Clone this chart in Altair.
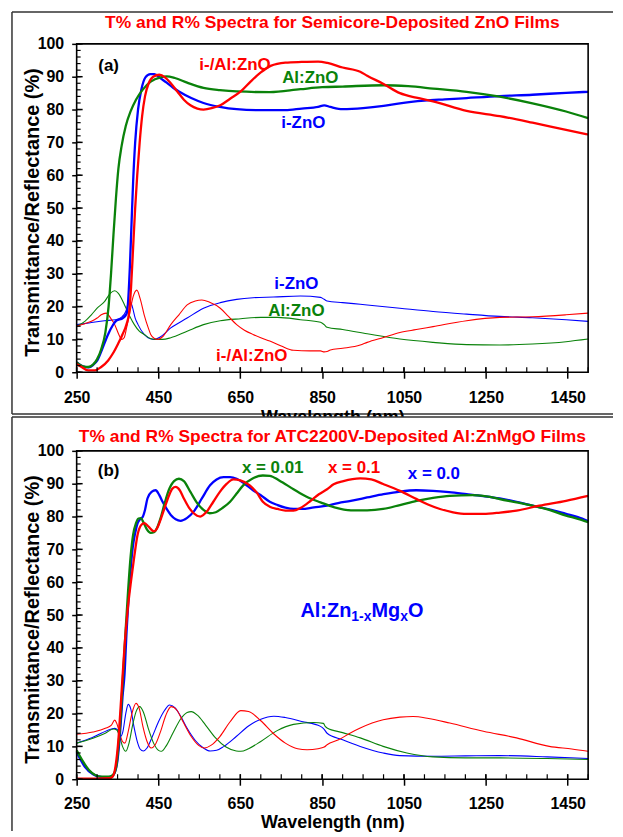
import altair as alt
import pandas as pd

FONT = "Liberation Sans"
RED, GREEN, BLUE = "#ff0000", "#0a820a", "#0000ff"
COLORS = {"red": RED, "green": GREEN, "blue": BLUE, "black": "#000000"}

TITLE_A = "T% and R% Spectra for Semicore-Deposited ZnO Films"
TITLE_B = "T% and R% Spectra for ATC2200V-Deposited Al:ZnMgO Films"
X_TITLE = "Wavelength (nm)"
Y_TITLE = "Transmittance/Reflectance (%)"

X_TICKS = [250, 450, 650, 850, 1050, 1250, 1450]
X_MINOR = list(range(250, 1501, 50))
Y_TICKS = list(range(0, 101, 10))
Y_MINOR = list(range(0, 101, 2))

# ---------------- panel (a) : transmittance ----------------
A_T_IZNO = [(250, 3.0), (265, 1.8), (280, 1.5), (290, 2.2), (300, 3.5), (311, 6.6), (327, 11.6),
            (347, 15.7), (363, 16.5), (372, 17.8), (376, 22), (380, 32), (384, 45), (388, 58),
            (393, 70), (400, 80), (408, 86), (418, 89.8), (430, 90.8), (440, 90.8), (455, 89.5),
            (470, 88.2), (485, 86.7), (500, 85.5), (530, 83.5), (560, 82), (600, 80.8), (641, 80.1),
            (700, 79.8), (760, 79.8), (800, 80.3), (840, 80.8), (855, 81.3), (870, 80.8), (900, 80.1),
            (950, 80.4), (1000, 81.1), (1040, 81.9), (1100, 82.7), (1150, 83.1), (1203, 83.5),
            (1284, 84.1), (1364, 84.5), (1446, 85.1), (1500, 85.4)]
A_T_ALZNO = [(250, 3.0), (265, 1.8), (278, 1.6), (290, 2.3), (300, 4), (310, 7), (320, 12), (328, 20),
             (334, 30), (340, 42), (346, 53), (352, 62), (360, 69), (370, 75), (382, 79.5), (395, 83),
             (411, 86), (431, 88.5), (455, 89.8), (470, 90.1), (490, 89.6), (520, 88.2), (560, 86.6),
             (600, 85.9), (641, 85.5), (722, 85.3), (797, 86.2), (850, 86.8), (900, 87), (999, 87.4),
             (1060, 87.1), (1121, 86.4), (1203, 85.4), (1284, 83.9), (1364, 81.9), (1446, 79.4),
             (1500, 77.4)]
A_T_IALZNO = [(250, 2.5), (262, 1.6), (278, 0.6), (295, 0.6), (310, 1.6), (327, 3.6), (340, 6),
              (351, 8.6), (362, 11.5), (372, 14.7), (378, 18), (383, 26), (388, 38), (393, 50),
              (398, 60), (404, 70), (410, 78), (417, 84), (426, 88), (437, 90), (452, 90.6),
              (466, 89.8), (480, 88), (496, 85.5), (512, 83), (528, 81.3), (545, 80.3), (560, 80),
              (580, 80.4), (601, 81.3), (625, 83.3), (651, 85.5), (675, 88.5), (700, 91.3),
              (724, 93.3), (760, 94.3), (800, 94.5), (840, 94.6), (863, 94.2), (900, 92.8),
              (943, 91.5), (960, 90.3), (1000, 87.8), (1040, 85), (1080, 83.6), (1121, 82.5),
              (1203, 79.6), (1284, 78), (1364, 76), (1446, 73.8), (1500, 72.4)]

# ---------------- panel (a) : reflectance ----------------
A_R_IZNO = [(250, 14.5), (280, 15), (318, 15.7), (345, 16), (360, 16.8), (370, 18.5), (376, 21),
            (380, 21.8), (386, 20), (393, 16.5), (400, 14.5), (415, 11.5), (430, 10.2), (440, 10),
            (455, 10.8), (480, 13.5), (520, 16.5), (560, 19.5), (601, 21.2), (641, 22.2),
            (681, 22.7), (731, 22.9), (797, 23.2), (846, 22.8), (855, 22.2), (862, 21.7),
            (900, 21.2), (943, 20.7), (960, 20.5), (1040, 19.5), (1121, 18.5), (1203, 17.7),
            (1284, 17.0), (1364, 16.6), (1446, 16.0), (1500, 15.5)]
A_R_ALZNO = [(250, 14), (270, 15.5), (286, 17.5), (300, 19.5), (318, 21.5), (332, 24), (343, 24.8),
             (352, 24), (367, 20.5), (380, 17), (391, 14.5), (403, 12.5), (415, 11.5), (430, 10.3),
             (445, 10), (460, 10), (480, 10.5), (520, 12.5), (560, 14.5), (601, 15.7), (651, 16.3),
             (700, 16.7), (741, 16.7), (797, 16), (846, 15.2), (855, 14.5), (862, 13.7), (900, 13),
             (960, 11.7), (1040, 10.1), (1121, 9.1), (1203, 8.4), (1284, 8.3), (1364, 8.6),
             (1446, 9.3), (1500, 10.1)]
A_R_IALZNO = [(250, 14), (270, 14.8), (286, 15.5), (300, 16.5), (310, 17.5), (322, 18), (333, 16.5),
              (343, 14.5), (353, 11.5), (360, 10), (366, 10.5), (372, 13.5), (379, 17.5), (388, 23),
              (397, 25), (405, 22.5), (415, 17.5), (425, 13.5), (431, 11.5), (440, 10.3), (449, 10),
              (460, 10.8), (480, 14.5), (500, 17.5), (520, 20.5), (540, 21.7), (556, 22), (575, 21.3),
              (601, 19.5), (621, 17), (641, 14.5), (660, 12.8), (681, 11.5), (700, 10.5), (722, 9.5),
              (750, 8), (780, 6.7), (820, 6.5), (846, 6.5), (855, 6.2), (862, 6.3), (870, 6.8),
              (900, 7.3), (943, 8.3), (960, 9.1), (1000, 10.6), (1040, 12.1), (1080, 13),
              (1121, 13.9), (1203, 15.7), (1284, 16.7), (1364, 16.9), (1446, 17.5), (1500, 18)]

# ---------------- panel (b) : transmittance ----------------
B_T_X00 = [(250, 8.2), (270, 3.8), (290, 1.5), (305, 0.8), (320, 0.6), (335, 0.8), (343, 2), (350, 6),
           (356, 14), (362, 25), (367, 32), (372, 45), (377, 55.5), (382, 64), (387, 70.5), (393, 75),
           (399, 78), (405, 79.2), (411, 79.8), (417, 82), (423, 85.5), (433, 87.5), (443, 88),
           (452, 86.5), (460, 84.5), (470, 82.3), (480, 80.5), (492, 79.2), (504, 78.7), (520, 79.6),
           (536, 81.5), (556, 85.5), (576, 89.5), (592, 91.3), (609, 92), (625, 92), (641, 91.5),
           (660, 90), (681, 88), (700, 86.5), (722, 84.5), (741, 83.5), (760, 82.7), (780, 82.3),
           (800, 82.3), (830, 82.8), (862, 83.3), (878, 83.8), (920, 84.8), (960, 85.8),
           (1000, 86.8), (1040, 87.6), (1080, 88), (1121, 87.8), (1160, 87.4), (1203, 86.8),
           (1244, 86.2), (1284, 85.5), (1325, 84.5), (1364, 83.3), (1405, 82.2), (1446, 80.8),
           (1475, 79.8), (1500, 78.6)]
B_T_X001 = [(250, 8.8), (265, 5.5), (280, 2.8), (295, 1.3), (310, 0.8), (330, 0.8), (340, 1.5),
            (347, 4), (352, 10), (358, 20), (364, 33), (370, 46), (376, 58), (382, 68), (388, 74.5),
            (395, 78), (401, 79.4), (407, 79.5), (413, 78.3), (422, 76), (431, 75), (440, 75.3),
            (448, 77), (455, 79.5), (465, 84), (475, 88), (488, 90.8), (500, 91.5), (512, 90.8),
            (528, 87.5), (545, 84), (560, 82), (575, 81), (590, 81.3), (605, 82.5), (625, 84.5),
            (641, 87), (657, 89.5), (680, 91.6), (705, 92.5), (722, 92.4), (745, 91), (780, 88.3),
            (812, 86), (846, 84.3), (880, 82.8), (920, 81.9), (960, 81.9), (999, 82.3),
            (1040, 83.5), (1081, 84.8), (1121, 85.7), (1162, 86.3), (1218, 86.5), (1260, 86),
            (1284, 85.3), (1325, 84.3), (1364, 83.3), (1405, 82), (1446, 80.3), (1475, 79.3),
            (1500, 78.3)]
B_T_X01 = [(250, 0.2), (300, 0.2), (330, 0.3), (338, 0.8), (345, 4), (351, 10.5), (359, 25),
           (367, 40.5), (375, 52), (383, 60.5), (391, 68), (399, 74.5), (407, 77.3), (415, 78),
           (425, 77), (439, 75.5), (447, 76.5), (455, 79), (466, 83), (476, 86.5), (484, 88.5),
           (492, 89), (502, 88), (512, 85.5), (524, 82.8), (536, 81), (552, 80), (568, 81.5),
           (584, 84.5), (600, 87.5), (617, 90), (633, 91.3), (650, 91), (673, 89.5), (690, 87.3),
           (705, 84.5), (722, 83), (741, 82.3), (760, 81.8), (780, 81.8), (797, 82.6), (822, 84.8),
           (842, 86.8), (862, 88.3), (878, 89.8), (902, 90.8), (943, 91.6), (970, 91.3),
           (999, 89.9), (1040, 87.8), (1081, 85.3), (1110, 83.6), (1138, 82.3), (1170, 81.3),
           (1203, 80.8), (1244, 80.8), (1285, 81.2), (1325, 81.8), (1381, 83.3), (1446, 84.8),
           (1500, 86.3)]

# ---------------- panel (b) : reflectance ----------------
B_R_X00 = [(250, 11), (280, 12.3), (310, 14), (335, 15.3), (343, 15.5), (350, 15), (357, 13),
           (363, 14.5), (370, 20), (376, 22.8), (382, 21.5), (390, 16), (398, 11.5), (405, 9.2),
           (413, 8.6), (422, 9.5), (435, 13), (450, 17.5), (465, 21), (477, 22.6), (490, 21.8),
           (505, 19), (520, 15.5), (540, 11.8), (560, 9.5), (576, 8.6), (592, 8.8), (610, 10),
           (640, 13), (670, 16.2), (700, 18.3), (732, 19.2), (760, 18.8), (800, 17.6), (846, 16.1),
           (855, 15.2), (862, 14), (900, 12), (943, 10), (999, 8), (1040, 7.2), (1121, 7),
           (1200, 7.1), (1284, 7.2), (1400, 6.8), (1500, 6.3)]
B_R_X001 = [(250, 11), (290, 12.5), (320, 14), (340, 15.3), (348, 15), (355, 13), (362, 10),
            (370, 8.5), (378, 11), (386, 16), (395, 20.5), (404, 22.1), (413, 20.5), (425, 15.5),
            (438, 11), (450, 8.8), (457, 8.5), (468, 10), (485, 14), (505, 18.5), (520, 20.3),
            (530, 20.6), (545, 19.5), (565, 16.5), (590, 12.5), (615, 9.8), (640, 8.6), (651, 8.5),
            (670, 9.3), (700, 11.5), (740, 14.8), (780, 16.7), (829, 17.3), (853, 17.0), (858, 16),
            (862, 15.6), (900, 14.2), (943, 12.6), (999, 10), (1057, 8), (1121, 6.8), (1200, 6.5),
            (1284, 6.5), (1400, 6.3), (1500, 6.0)]
B_R_X01 = [(250, 13.7), (290, 14.4), (320, 15.5), (335, 16.5), (343, 18), (348, 17), (355, 14),
           (362, 11.5), (368, 11), (376, 14.5), (385, 20), (395, 23.1), (403, 21.5), (412, 16),
           (422, 11.5), (432, 9.5), (442, 10.5), (455, 14.5), (468, 19.5), (481, 22.1), (495, 21),
           (510, 17.5), (530, 13), (548, 10.3), (562, 9.5), (578, 10.3), (600, 13), (625, 17.5),
           (651, 20.9), (670, 20.6), (700, 17.8), (730, 14), (760, 11), (790, 9.3), (813, 9.0),
           (840, 9.3), (855, 9.8), (862, 10.5), (890, 12), (919, 14.1), (943, 15.6), (999, 18.1),
           (1040, 18.9), (1072, 19.1), (1110, 18.5), (1162, 17.1), (1244, 14.6), (1325, 12.6),
           (1405, 10), (1460, 9.2), (1500, 8.5)]

# ---------------- annotations ----------------
ANN_A_TEXT = ["(a)", "i-/Al:ZnO", "Al:ZnO", "i-ZnO", "i-ZnO", "Al:ZnO", "i-/Al:ZnO"]
ANN_A_WL = [328, 637, 821, 804, 787, 787, 678]
ANN_A_VAL = [93.4, 93.7, 89.5, 75.9, 26.8, 18.7, 4.8]
ANN_A_COLOR = ["black", "red", "green", "blue", "blue", "green", "red"]

ANN_B_TEXT = ["(b)", "x = 0.01", "x = 0.1", "x = 0.0"]
ANN_B_WL = [328, 729, 928, 1123]
ANN_B_VAL = [94.0, 94.9, 94.9, 92.8]
ANN_B_COLOR = ["black", "green", "red", "blue"]

BIG_PARTS = ["Al:Zn", "1-x", "Mg", "x", "O"]
BIG_WL = 797
BIG_VAL = 51.2

W, H = 514, 330
FRAME_L, FRAME_R = -65, 539


def lines_df(series):
    rows = []
    for name, color, pts in series:
        for wl, v in pts:
            rows.append({"series": name, "color": COLORS[color], "wl": wl, "val": v})
    return pd.DataFrame(rows)


def ann_df(texts, wls, vals, cols):
    return pd.DataFrame({"text": texts, "wl": wls, "val": vals,
                         "color": [COLORS[c] for c in cols]})


def panel(t_series, r_series, ann, title, title_y, label_pad, xtitle_y,
          frame_top, frame_bottom, draw_bottom, cover, spacer, big):
    xs = alt.Scale(domain=[250, 1500], nice=False, zero=False)
    ys = alt.Scale(domain=[0, 100], nice=False, zero=False)
    X = alt.X("wl:Q", scale=xs, axis=alt.Axis(
        values=X_TICKS, format="d", tickSize=6, tickWidth=1.5, tickColor="black", domain=False,
        grid=False, labelFont=FONT, labelFontSize=16, labelFontWeight="bold", labelColor="black",
        labelPadding=label_pad, labelFlush=False, labelOverlap=False,
        title=X_TITLE, titleFont=FONT, titleFontSize=18, titleFontWeight="bold",
        titleColor="black", titleY=xtitle_y, titleBaseline="top", zindex=1))
    Y = alt.Y("val:Q", scale=ys, axis=alt.Axis(
        values=Y_TICKS, format="d", tickSize=5, tickWidth=1.5, tickColor="black", domain=False,
        grid=False, labelFont=FONT, labelFontSize=16, labelFontWeight="bold", labelColor="black",
        labelPadding=8, labelFlush=False, labelOverlap=False,
        title=Y_TITLE, titleFont=FONT, titleFontSize=20, titleFontWeight="bold",
        titleColor="black", titleX=-34, titleY=169, titleAngle=270, titleBaseline="bottom",
        titleAlign="center", zindex=1))
    one = alt.Data(values=[{"k": 0}])
    layers = []
    if cover:
        layers.append(alt.Chart(one).mark_rect(color="white", strokeWidth=0).encode(
            x=alt.value(FRAME_L), x2=alt.value(FRAME_R), y=alt.value(frame_top), y2=alt.value(frame_bottom)))
    layers.append(alt.Chart(one).mark_rule(color="#333333", strokeWidth=1.5).encode(
        x=alt.value(FRAME_L), x2=alt.value(FRAME_R), y=alt.value(frame_top)))
    layers.append(alt.Chart(one).mark_rule(color="#333333", strokeWidth=1.5).encode(
        x=alt.value(FRAME_L), y=alt.value(frame_top), y2=alt.value(frame_bottom)))
    if draw_bottom:
        layers.append(alt.Chart(one).mark_rule(color="#333333", strokeWidth=1.5).encode(
            x=alt.value(FRAME_L), x2=alt.value(FRAME_R), y=alt.value(frame_bottom)))
    if spacer:
        layers.append(alt.Chart(one).mark_rect(opacity=0).encode(
            x=alt.value(0), x2=alt.value(10), y=alt.value(spacer - 2), y2=alt.value(spacer)))
    # panel title
    layers.append(alt.Chart(alt.Data(values=[{"t": title}])).mark_text(
        font=FONT, fontSize=17.5, fontWeight="bold", color=RED, baseline="middle").encode(
        x=alt.value(W / 2), y=alt.value(title_y), text="t:N"))
    # reflectance (thin) and transmittance (thick) curves
    layers.append(alt.Chart(lines_df(r_series)).mark_line(strokeWidth=1.1, interpolate="monotone").encode(
        x=X, y=Y, color=alt.Color("color:N", scale=None), detail="series:N"))
    layers.append(alt.Chart(lines_df(t_series)).mark_line(strokeWidth=2.3, interpolate="monotone").encode(
        x=X, y=Y, color=alt.Color("color:N", scale=None), detail="series:N"))
    # inward ticks
    layers.append(alt.Chart(pd.DataFrame({"val": Y_MINOR})).mark_rule(color="black", strokeWidth=1.2).encode(
        y=Y, x=alt.value(0), x2=alt.value(4)))
    layers.append(alt.Chart(pd.DataFrame({"val": Y_TICKS})).mark_rule(color="black", strokeWidth=1.5).encode(
        y=Y, x=alt.value(0), x2=alt.value(6)))
    layers.append(alt.Chart(pd.DataFrame({"wl": X_MINOR})).mark_rule(color="black", strokeWidth=1.2).encode(
        x=X, y=alt.value(H), y2=alt.value(H - 5)))
    layers.append(alt.Chart(pd.DataFrame({"wl": X_TICKS})).mark_rule(color="black", strokeWidth=1.5).encode(
        x=X, y=alt.value(H), y2=alt.value(H - 5)))
    # plot border
    layers.append(alt.Chart(one).mark_rect(filled=False, stroke="black", strokeWidth=1.6).encode(
        x=alt.value(0), x2=alt.value(W), y=alt.value(0), y2=alt.value(H)))
    # annotations
    layers.append(alt.Chart(ann).mark_text(font=FONT, fontSize=17, fontWeight="bold", baseline="middle").encode(
        x=X, y=Y, text="text:N", color=alt.Color("color:N", scale=None)))
    if big:
        dxs = [0, 51.1, 71.3, 100.2, 108.0]
        sizes = [20, 14, 20, 14, 20]
        dys = [0, 6, 0, 6, 0]
        for part, dx, sz, dy in zip(BIG_PARTS, dxs, sizes, dys):
            layers.append(alt.Chart(pd.DataFrame({"wl": [BIG_WL], "val": [BIG_VAL], "text": [part]})).mark_text(
                font=FONT, fontSize=sz, fontWeight="bold", color=BLUE, align="left", baseline="middle",
                dx=dx, dy=dy).encode(x=X, y=Y, text="text:N"))
    return alt.layer(*layers).properties(width=W, height=H)


pa = panel(
    t_series=[("T i-ZnO", "blue", A_T_IZNO), ("T Al:ZnO", "green", A_T_ALZNO), ("T i-/Al:ZnO", "red", A_T_IALZNO)],
    r_series=[("R i-ZnO", "blue", A_R_IZNO), ("R Al:ZnO", "green", A_R_ALZNO), ("R i-/Al:ZnO", "red", A_R_IALZNO)],
    ann=ann_df(ANN_A_TEXT, ANN_A_WL, ANN_A_VAL, ANN_A_COLOR),
    title=TITLE_A, title_y=-21, label_pad=11, xtitle_y=37,
    frame_top=-32, frame_bottom=372, draw_bottom=True, cover=False, spacer=390, big=False)

pb = panel(
    t_series=[("T x=0.0", "blue", B_T_X00), ("T x=0.01", "green", B_T_X001), ("T x=0.1", "red", B_T_X01)],
    r_series=[("R x=0.0", "blue", B_R_X00), ("R x=0.01", "green", B_R_X001), ("R x=0.1", "red", B_R_X01)],
    ann=ann_df(ANN_B_TEXT, ANN_B_WL, ANN_B_VAL, ANN_B_COLOR),
    title=TITLE_B, title_y=-14, label_pad=10, xtitle_y=35,
    frame_top=-34, frame_bottom=382, draw_bottom=False, cover=True, spacer=None, big=True)

chart = alt.vconcat(pa, pb, spacing=-18).properties(
    padding={"left": 2, "top": 0, "right": 0, "bottom": 0}
).configure_view(stroke="transparent")

chart.save("out.html", embed_options={"renderer": "svg", "actions": False})
